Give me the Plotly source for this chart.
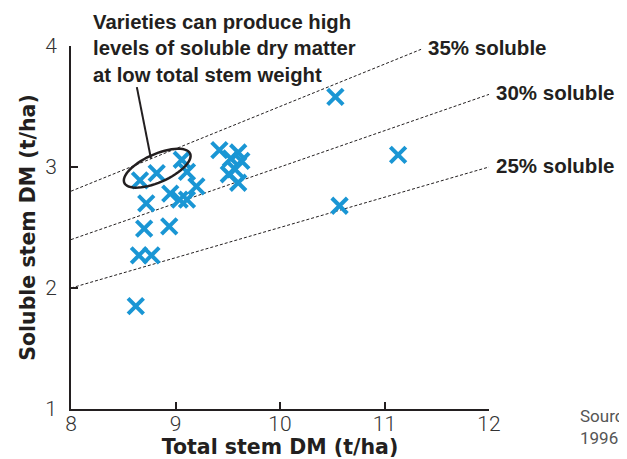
import numpy as np
import plotly.graph_objects as go

# Data
total_dm = [8.66, 8.82, 9.06, 9.11, 9.20, 8.95, 9.04, 9.11, 8.72, 8.70, 8.94, 8.65, 8.77, 8.62,
            9.42, 9.60, 9.53, 9.63, 9.51, 9.60, 9.57, 10.53, 11.13, 10.57]
soluble_dm = [2.89, 2.95, 3.06, 2.96, 2.84, 2.78, 2.73, 2.73, 2.70, 2.49, 2.51, 2.27, 2.27, 1.85,
              3.14, 3.12, 3.07, 3.05, 2.94, 2.87, 2.98, 3.58, 3.10, 2.68]
soluble_pct = [0.35, 0.30, 0.25]
line_labels = ["35% soluble", "30% soluble", "25% soluble"]
line_end_x = [11.35, 12.0, 12.0]
x_ticks = [8, 9, 10, 11, 12]
y_ticks = [1, 2, 3, 4]

BLUE = "#1a96d4"
DARK = "#231f20"
BOLD_FONT = "Liberation Sans"
TITLE_FONT = "DejaVu Sans"
TICK_FONT = "Roboto"

# page has an 8px body margin; figure is placed at (8, 8)
OFF = 8
W, H = 627 - OFF, 459 - OFF
L, T = 71 - OFF, 46 - OFF
PW, PH = 418, 363
R, B = W - L - PW, H - T - PH


def px_to_paper(px, py):
    """page pixel -> paper coordinates"""
    return (px - OFF - L) / PW, 1 - (py - OFF - T) / PH


fig = go.Figure()

for pct, xe, lab in zip(soluble_pct, line_end_x, line_labels):
    fig.add_trace(go.Scatter(x=[8, xe], y=[8 * pct, xe * pct], mode="lines",
                             line=dict(color=DARK, width=1, dash="3px,2px"),
                             hoverinfo="skip", showlegend=False, cliponaxis=False))
    fig.add_annotation(x=xe, y=xe * pct, xref="x", yref="y", text="<b>" + lab + "</b>",
                       showarrow=False, xanchor="left", yanchor="middle", xshift=5, yshift=2,
                       font=dict(family=BOLD_FONT, size=20.5, color=DARK))

fig.add_trace(go.Scatter(x=total_dm, y=soluble_dm, mode="markers",
                         marker=dict(symbol="x-thin", size=15.5, line=dict(color=BLUE, width=4)),
                         showlegend=False, cliponaxis=False))

# Ellipse highlight (pixel-space ellipse converted to data units)
px_x, px_y = PW / 4.0, PH / 3.0
cx, cy = 8.825, 2.99
a, b, ang = 36.0, 14.0, np.deg2rad(24)
t = np.linspace(0, 2 * np.pi, 60)
ex = cx + (a * np.cos(t) * np.cos(ang) - b * np.sin(t) * np.sin(ang)) / px_x
ey = cy + (a * np.cos(t) * np.sin(ang) + b * np.sin(t) * np.cos(ang)) / px_y
path = "M " + " L ".join(f"{u:.4f},{v:.4f}" for u, v in zip(ex, ey)) + " Z"
fig.add_shape(type="path", path=path, xref="x", yref="y", line=dict(color=DARK, width=2.5))
fig.add_shape(type="line", xref="x", yref="y", x0=8.63, y0=3.66, x1=8.765, y1=3.07,
              line=dict(color=DARK, width=2))

ax, ay = px_to_paper(91, 9)
fig.add_annotation(x=ax, y=ay, xref="paper", yref="paper",
                   text="<b>Varieties can produce high<br>levels of soluble dry matter<br>at low total stem weight</b>",
                   showarrow=False, xanchor="left", yanchor="top", align="left",
                   font=dict(family=BOLD_FONT, size=20.3, color=DARK))

sx, sy = px_to_paper(578, 427)
fig.add_annotation(x=sx, y=sy, xref="paper", yref="paper",
                   text="Source:<br>1996–97", showarrow=False, xanchor="left", yanchor="middle",
                   align="left", font=dict(family=TICK_FONT, size=17, color="#555555"))

axis_common = dict(showgrid=False, zeroline=False, showline=True, linecolor=DARK, linewidth=2,
                   ticks="inside", ticklen=7, tickwidth=1.5, tickcolor=DARK, automargin=False,
                   tickfont=dict(family=TICK_FONT, size=21, color="#333333", weight=300))

fig.update_layout(
    width=W, height=H,
    margin=dict(l=L, r=R, t=T, b=B),
    plot_bgcolor="white", paper_bgcolor="white",
    xaxis=dict(range=[8, 12], tickvals=x_ticks, ticklabelstandoff=-5, **axis_common,
               title=dict(text="<b>Total stem DM (t/ha)</b>", standoff=4,
                          font=dict(family=TITLE_FONT, size=20.5, color=DARK))),
    yaxis=dict(range=[1, 4], tickvals=y_ticks, ticklabelstandoff=8, **axis_common,
               title=dict(text="<b>Soluble stem DM (t/ha)</b>", standoff=4,
                          font=dict(family=TITLE_FONT, size=20.5, color=DARK))),
)

fig.write_html("out.html")
